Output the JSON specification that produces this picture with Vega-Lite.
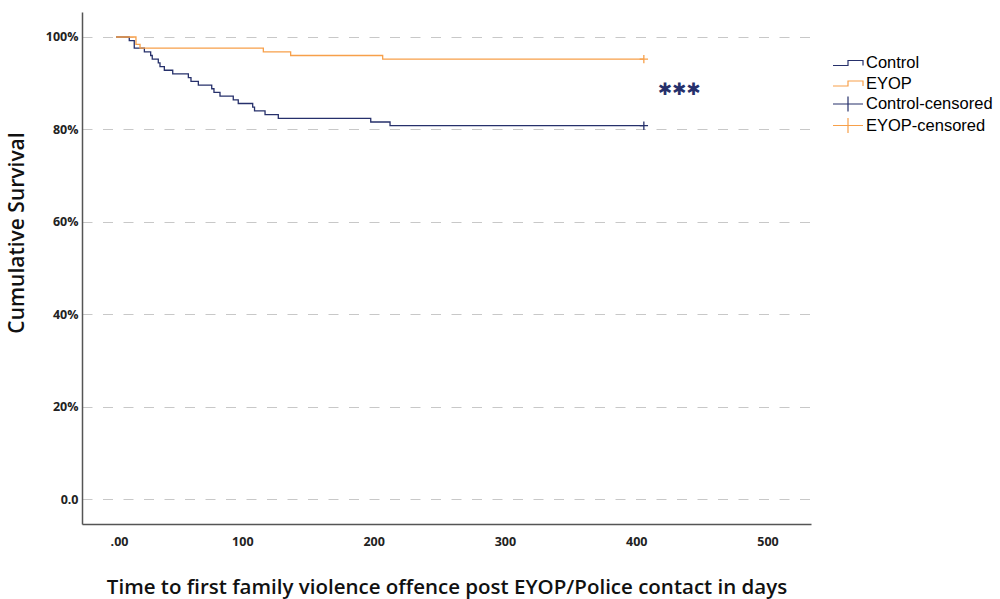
{
  "$schema": "https://vega.github.io/schema/vega-lite/v6.json",
  "width": 729,
  "height": 512,
  "autosize": {"type": "none"},
  "padding": {"left": 82, "top": 12, "right": 189, "bottom": 75},
  "background": "white",
  "config": {"view": {"stroke": null}, "font": "Open Sans"},
  "datasets": {
    "curves": [
      {"group": "Control", "t": 0, "s": 1.0},
      {"group": "Control", "t": 10.1, "s": 0.992},
      {"group": "Control", "t": 13.9, "s": 0.976},
      {"group": "Control", "t": 21.6, "s": 0.968},
      {"group": "Control", "t": 26.4, "s": 0.96},
      {"group": "Control", "t": 27.6, "s": 0.952},
      {"group": "Control", "t": 32.2, "s": 0.944},
      {"group": "Control", "t": 33.5, "s": 0.936},
      {"group": "Control", "t": 36.8, "s": 0.928},
      {"group": "Control", "t": 43.2, "s": 0.92},
      {"group": "Control", "t": 55.1, "s": 0.912},
      {"group": "Control", "t": 57.1, "s": 0.904},
      {"group": "Control", "t": 62.7, "s": 0.896},
      {"group": "Control", "t": 72.9, "s": 0.888},
      {"group": "Control", "t": 74.6, "s": 0.88},
      {"group": "Control", "t": 79.2, "s": 0.872},
      {"group": "Control", "t": 89.3, "s": 0.864},
      {"group": "Control", "t": 93.1, "s": 0.856},
      {"group": "Control", "t": 104.1, "s": 0.848},
      {"group": "Control", "t": 105.5, "s": 0.84},
      {"group": "Control", "t": 113.5, "s": 0.832},
      {"group": "Control", "t": 123.6, "s": 0.824},
      {"group": "Control", "t": 194, "s": 0.816},
      {"group": "Control", "t": 208.7, "s": 0.808},
      {"group": "Control", "t": 402, "s": 0.808},
      {"group": "EYOP", "t": 0, "s": 1.0},
      {"group": "EYOP", "t": 15.2, "s": 0.984},
      {"group": "EYOP", "t": 18.3, "s": 0.976},
      {"group": "EYOP", "t": 112.2, "s": 0.968},
      {"group": "EYOP", "t": 133, "s": 0.96},
      {"group": "EYOP", "t": 203.1, "s": 0.952},
      {"group": "EYOP", "t": 402, "s": 0.952}
    ],
    "censored": [
      {"group": "Control-censored", "t": 402, "s": 0.808},
      {"group": "EYOP-censored", "t": 402, "s": 0.952}
    ],
    "annot": [
      {"t": 428.8, "s": 0.885, "label": "✱✱✱"}
    ]
  },
  "layer": [
    {
      "data": {"name": "curves"},
      "mark": {"type": "line", "interpolate": "step-after", "strokeWidth": 1.3},
      "encoding": {
        "x": {
          "field": "t", "type": "quantitative",
          "scale": {"domain": [-25.9, 529.3], "nice": false, "zero": false},
          "axis": {
            "title": "Time to first family violence offence post EYOP/Police contact in days",
            "values": [0, 100, 200, 300, 400, 500],
            "labelExpr": "datum.value == 0 ? '.00' : format(datum.value, 'd')",
            "grid": false, "ticks": false,
            "domainColor": "#555555", "domainWidth": 1.5,
            "labelFont": "Open Sans", "labelFontWeight": "bold", "labelFontSize": 12.5, "labelColor": "#222222",
            "labelPadding": 11,
            "labelOffset": {"condition": {"test": "datum.value == 0", "value": 3}, "value": -5},
            "titleFont": "Open Sans", "titleFontSize": 20.5, "titleFontWeight": 600, "titleColor": "#111111",
            "titlePadding": 30
          }
        },
        "y": {
          "field": "s", "type": "quantitative",
          "scale": {"domain": [-0.0541, 1.0541], "nice": false, "zero": false},
          "axis": {
            "title": "Cumulative Survival",
            "values": [0, 0.2, 0.4, 0.6, 0.8, 1],
            "labelExpr": "datum.value == 0 ? '0.0' : format(datum.value, '.0%')",
            "grid": true, "gridDash": [10, 10.5], "gridColor": "#c8c8c8", "gridWidth": 1,
            "ticks": false,
            "domainColor": "#555555", "domainWidth": 1.5,
            "labelFont": "Open Sans", "labelFontWeight": "bold", "labelFontSize": 12.5, "labelColor": "#222222",
            "labelPadding": 4,
            "titleFont": "Open Sans", "titleFontSize": 21, "titleFontWeight": 600, "titleColor": "#111111",
            "titleX": -64.5, "titleY": 220.5, "titleAlign": "center", "titleBaseline": "middle", "titleAngle": -90
          }
        },
        "color": {
          "field": "group", "type": "nominal",
          "scale": {"domain": ["Control", "EYOP", "Control-censored", "EYOP-censored"], "range": ["#26306b", "#f7a04a", "#26306b", "#f7a04a"]},
          "legend": {
            "title": null, "orient": "none", "legendX": 755, "legendY": 40, "padding": 0,
            "symbolSize": 400, "symbolStrokeWidth": 1.2,
            "labelFont": "Liberation Sans", "labelFontSize": 16.5, "labelColor": "#000000",
            "labelOffset": 7, "rowPadding": 0.5,
            "encode": {
              "symbols": {
                "update": {
                  "shape": {"signal": "(datum.value === 'Control' || datum.value === 'EYOP') ? 'M-1.5,0.25H0V-0.25H1.5V0.25' : 'M-1.5,0H1.5M0,-0.75V0.75'"},
                  "fill": {"value": "transparent"}
                }
              }
            }
          }
        }
      }
    },
    {
      "data": {"name": "censored"},
      "mark": {"type": "point", "shape": "M-1,0H1M0,-1V1", "filled": false, "size": 70, "strokeWidth": 1.3, "opacity": 1},
      "encoding": {
        "x": {"field": "t", "type": "quantitative"},
        "y": {"field": "s", "type": "quantitative"},
        "color": {"field": "group", "type": "nominal"}
      }
    },
    {
      "data": {"name": "annot"},
      "mark": {"type": "text", "font": "DejaVu Sans", "fontSize": 17, "color": "#26306b"},
      "encoding": {
        "x": {"field": "t", "type": "quantitative"},
        "y": {"field": "s", "type": "quantitative"},
        "text": {"field": "label"}
      }
    }
  ]
}
